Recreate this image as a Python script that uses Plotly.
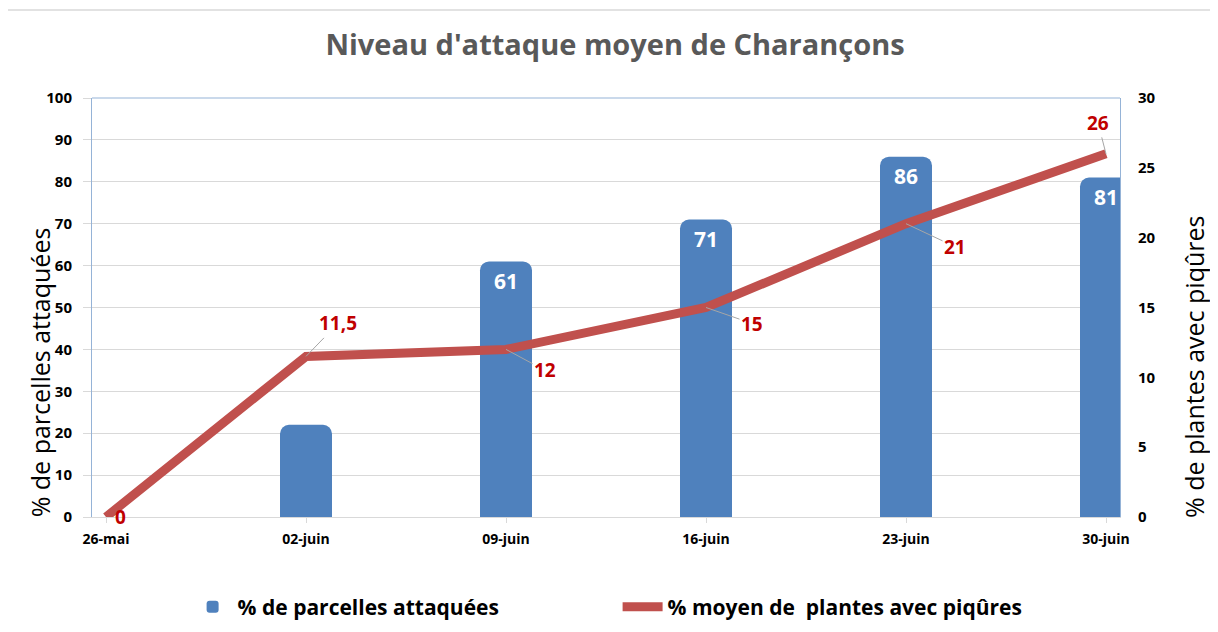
import plotly.graph_objects as go

# ---- data ----
dates = ["26-mai", "02-juin", "09-juin", "16-juin", "23-juin", "30-juin"]
bar_values = [None, 22, 61, 71, 86, 81]          # % de parcelles attaquées
bar_label_shown = [False, False, True, True, True, True]
line_values = [0, 11.5, 12, 15, 21, 26]          # % moyen de plantes avec piqûres
y1_ticks = [0, 10, 20, 30, 40, 50, 60, 70, 80, 90, 100]
y2_ticks = [0, 5, 10, 15, 20, 25, 30]

# label offsets (px) for the line data labels: style only
label_offsets = [(14, 0), (32, -33), (39, 21), (46, 16), (49, 23), (-8, -31)]

FONT = "Open Sans"
BLUE = "#4F81BD"
RED = "#C0504D"
LABEL_RED = "#C00000"
BORDER = "#D9D9D9"

idx = list(range(len(dates)))

def fr(v):
    return ("%g" % v).replace(".", ",")

fig = go.Figure()

fig.add_trace(go.Bar(
    x=idx, y=bar_values, name="% de parcelles attaquées",
    marker=dict(color=BLUE, cornerradius=9, line=dict(width=0)),
    width=0.26,
    text=[str(v) if (v is not None and s) else "" for v, s in zip(bar_values, bar_label_shown)],
    textposition="inside", insidetextanchor="end", textangle=0,
    textfont=dict(color="white", size=21, family=FONT, weight="bold"),
    yaxis="y", hoverinfo="skip",
))

fig.add_trace(go.Scatter(
    x=idx, y=line_values, name="% moyen de  plantes avec piqûres",
    mode="lines", line=dict(color=RED, width=9),
    yaxis="y2", hoverinfo="skip",
))

annotations = []
for i, v in enumerate(line_values):
    ax, ay = label_offsets[i]
    font = dict(color=LABEL_RED, size=19, family=FONT, weight="bold")
    if i == 0:
        annotations.append(dict(x=i, y=v, xref="x", yref="y2", text=fr(v), showarrow=False,
                                xshift=ax, yshift=ay, font=font))
    else:
        annotations.append(dict(x=i, y=v, xref="x", yref="y2", text=fr(v),
                                showarrow=True, arrowhead=0, arrowwidth=1, arrowcolor="#A6A6A6",
                                ax=ax, ay=ay, standoff=0, font=font))

annotations += [
    dict(text="% de parcelles attaquées", xref="paper", yref="paper",
         x=-0.0318, y=0.346, xanchor="right", yanchor="middle", textangle=-90, showarrow=False,
         font=dict(size=25, family=FONT, color="black")),
    dict(text="% de plantes avec piqûres", xref="paper", yref="paper",
         x=1.0535, y=0.358, xanchor="left", yanchor="middle", textangle=-90, showarrow=False,
         font=dict(size=25, family=FONT, color="black")),
]

fig.update_layout(
    width=1210, height=624,
    margin=dict(l=84, r=98, t=90, b=115, autoexpand=False),
    paper_bgcolor="white", plot_bgcolor="white",
    title=dict(text="Niveau d'attaque moyen de Charançons", x=0.5017, xanchor="center",
               y=0.9407, yanchor="middle",
               font=dict(size=29, family=FONT, color="#595959", weight="bold")),
    xaxis=dict(
        range=[-0.07, 5.07], tickvals=idx, ticktext=dates,
        tickfont=dict(size=14, family=FONT, color="black", weight="bold"),
        showgrid=False, zeroline=False, automargin=False,
        showline=True, linecolor=BORDER, linewidth=1,
        ticks="outside", ticklen=5, tickcolor=BORDER, ticklabelstandoff=4,
    ),
    yaxis=dict(
        range=[0, 100], tickvals=y1_ticks, automargin=False,
        tickfont=dict(size=15, family=FONT, color="black", weight="bold"),
        showgrid=True, gridcolor=BORDER, gridwidth=1, zeroline=False,
        showline=True, linecolor="#95B3D7", linewidth=1, mirror=True,
        ticks="outside", ticklen=8, tickcolor=BORDER, ticklabelstandoff=8,
    ),
    yaxis2=dict(
        range=[0, 30], tickvals=y2_ticks, overlaying="y", side="right", automargin=False,
        tickfont=dict(size=15, family=FONT, color="black", weight="bold"),
        showgrid=False, zeroline=False, showline=False,
        ticks="", ticklabelstandoff=17,
    ),
    legend=dict(
        orientation="h", x=0.093, xanchor="left", y=-0.215, yanchor="middle",
        font=dict(size=21, family=FONT, color="black", weight="bold"),
        itemwidth=40, entrywidth=375, traceorder="normal",
    ),
    annotations=annotations,
    shapes=[
        dict(type="line", xref="x domain", yref="y domain", x0=0, x1=1, y0=1, y1=1,
             line=dict(color="#95B3D7", width=1)),
        dict(type="line", xref="paper", yref="paper", x0=-0.0827, x1=1.2, y0=1.21, y1=1.21,
             line=dict(color=BORDER, width=1.5)),
        dict(type="line", xref="paper", yref="paper", x0=-0.0827, x1=-0.0827, y0=1.21, y1=-0.3,
             line=dict(color=BORDER, width=1.5)),
    ],
)

fig.write_html("out.html")
